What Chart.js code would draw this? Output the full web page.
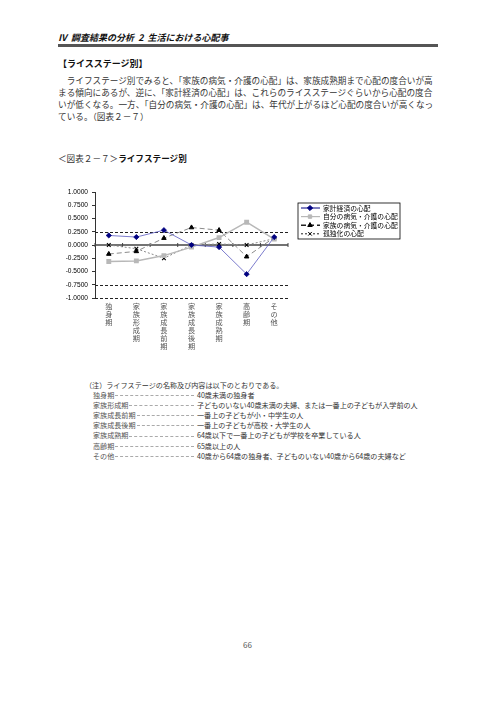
<!DOCTYPE html>
<html lang="ja">
<head>
<meta charset="UTF-8">
<title>ライフステージ別</title>
<style>
body { margin: 0; background: #fff; font-family: 'Noto Sans CJK JP', sans-serif; color: #333; }
.page { position: relative; width: 496px; height: 702px; overflow: hidden; }
.abs { position: absolute; white-space: nowrap; }

/* Header */
.head { left: 58px; top: 32px; font-size: 9px; line-height: 12px; font-weight: bold; font-style: italic; color: #111; }
.bar { position: absolute; left: 58px; top: 44px; width: 380px; height: 3px; background: #555; }

/* Body text */
.sect { left: 58px; top: 58px; font-size: 9px; line-height: 12px; font-weight: bold; color: #111; }
.para { left: 58px; top: 74px; font-size: 8.64px; line-height: 12px; }
.figttl { left: 58px; top: 152px; font-size: 8.6px; line-height: 12px; }
.figttl b { color: #111; }

/* Chart */
.chart-box { position: absolute; left: 30px; top: 180px; width: 380px; height: 185px; }

/* Notes */
.notes { left: 85px; top: 380px; font-size: 7.1px; line-height: 10.1px; }
.notes .row { display: flex; align-items: center; margin-left: 8px; }
.notes .lbl { color: #555; }
.notes .lead { width: 0; flex: 0 0 auto; border-bottom: 1px dashed #aaa; height: 0; margin: 1px 3px 0 1px; }
.pageno { left: 243px; top: 640px; font-size: 8px; line-height: 10px; color: #555; }
</style>
<script src="https://cdn.jsdelivr.net/npm/chart.js"></script>
</head>
<body>
<div class="page">
    <div class="abs head">Ⅳ&nbsp; 調査結果の分析&nbsp; 2&nbsp; 生活における心配事</div>
    <div class="bar"></div>

    <div class="abs sect">【ライスステージ別】</div>
    <div class="abs para">
        <div>　ライフステージ別でみると、「家族の病気・介護の心配」は、家族成熟期まで心配の度合いが高</div>
        <div>まる傾向にあるが、逆に、「家計経済の心配」は、これらのライスステージぐらいから心配の度合</div>
        <div>いが低くなる。一方、「自分の病気・介護の心配」は、年代が上がるほど心配の度合いが高くなっ</div>
        <div>ている。（図表２－７）</div>
    </div>

    <div class="abs figttl">＜図表２－７＞<b>ライフステージ別</b></div>

    <div class="chart-box">
        <canvas id="lifeStageChart" width="380" height="185"></canvas>
    </div>

    <div class="abs notes" id="notes">
        <div>（注）ライフステージの名称及び内容は以下のとおりである。</div>
    </div>

    <div class="abs pageno">66</div>
</div>

<script>
const stages = ["独身期", "家族形成期", "家族成長前期", "家族成長後期", "家族成熟期", "高齢期", "その他"];
const stageNotes = [
    "40歳未満の独身者",
    "子どものいない40歳未満の夫婦、または一番上の子どもが入学前の人",
    "一番上の子どもが小・中学生の人",
    "一番上の子どもが高校・大学生の人",
    "64歳以下で一番上の子どもが学校を卒業している人",
    "65歳以上の人",
    "40歳から64歳の独身者、子どものいない40歳から64歳の夫婦など"
];
const seriesNames = ["家計経済の心配", "自分の病気・介護の心配", "家族の病気・介護の心配", "孤独化の心配"];
const kakeiKeizai = [0.18, 0.15, 0.28, 0.00, -0.04, -0.55, 0.15];
const jibunByoki = [-0.31, -0.30, -0.20, -0.04, 0.14, 0.43, 0.11];
const kazokuByoki = [-0.17, -0.12, 0.13, 0.33, 0.28, -0.22, 0.14];
const kodokuka = [0.00, -0.07, -0.25, 0.00, 0.02, 0.00, 0.12];
const yTicks = [1, 0.75, 0.5, 0.25, 0, -0.25, -0.5, -0.75, -1];
const dashedLines = [0.25, -0.75, -1];

// notes list: label, dashed leader up to x=197, description
const notesEl = document.getElementById("notes");
stages.forEach((s, i) => {
    const row = document.createElement("div");
    row.className = "row";
    const lbl = document.createElement("span");
    lbl.className = "lbl";
    lbl.textContent = s;
    const lead = document.createElement("span");
    lead.className = "lead";
    const desc = document.createElement("span");
    desc.textContent = stageNotes[i];
    row.append(lbl, lead, desc);
    notesEl.appendChild(row);
    lead.style.width = (104 - 4 - lbl.getBoundingClientRect().width) + "px";
});

// dashed / zero reference lines
const refLines = {
    id: "refLines",
    beforeDatasetsDraw(chart) {
        const { ctx, chartArea: a, scales: { x, y } } = chart;
        ctx.save();
        ctx.strokeStyle = "#222";
        ctx.lineWidth = 1;
        ctx.setLineDash([3, 2]);
        dashedLines.forEach(v => {
            const py = Math.round(y.getPixelForValue(v)) + 0.5;
            ctx.beginPath();
            ctx.moveTo(a.left, py);
            ctx.lineTo(a.right, py);
            ctx.stroke();
        });
        ctx.setLineDash([]);
        const y0 = y.getPixelForValue(0);
        ctx.strokeStyle = "#444";
        ctx.lineWidth = 1.6;
        ctx.beginPath();
        ctx.moveTo(a.left, y0);
        ctx.lineTo(a.right, y0);
        ctx.stroke();
        ctx.lineWidth = 1;
        for (let i = 0; i <= stages.length; i++) {
            const px = i === 0 ? a.left : i === stages.length ? a.right
                : (x.getPixelForValue(i - 1) + x.getPixelForValue(i)) / 2;
            ctx.beginPath();
            ctx.moveTo(px, y0 - 2);
            ctx.lineTo(px, y0 + 2);
            ctx.stroke();
        }
        ctx.restore();
    }
};

// boxed legend like the original
const boxLegend = {
    id: "boxLegend",
    afterDraw(chart) {
        const ctx = chart.ctx;
        const bx = 268, by = 23, bw = 102, bh = 36, rowH = 8.6;
        ctx.save();
        ctx.fillStyle = "#fff";
        ctx.fillRect(bx, by, bw, bh);
        ctx.strokeStyle = "#000";
        ctx.lineWidth = 0.8;
        ctx.strokeRect(bx, by, bw, bh);
        chart.data.datasets.forEach((ds, i) => {
            const cy = by + 5 + rowH * i;
            ctx.strokeStyle = ds.legendColor;
            ctx.lineWidth = ds.legendWidth;
            ctx.setLineDash(ds.borderDash || []);
            ctx.beginPath();
            ctx.moveTo(bx + 3, cy);
            ctx.lineTo(bx + 22, cy);
            ctx.stroke();
            ctx.setLineDash([]);
            ctx.fillStyle = ds.pointBackgroundColor;
            ctx.strokeStyle = ds.pointBorderColor;
            ctx.lineWidth = 1;
            Chart.helpers.drawPoint(ctx, { pointStyle: ds.pointStyle, radius: ds.pointRadius, borderWidth: 1, rotation: 0 }, bx + 12, cy);
            ctx.fillStyle = "#000";
            ctx.font = '6.8px "Noto Sans CJK JP"';
            ctx.textBaseline = "middle";
            ctx.fillText(ds.label, bx + 25, cy);
        });
        ctx.restore();
    }
};

new Chart(document.getElementById("lifeStageChart"), {
    type: "line",
    data: {
        labels: stages,
        datasets: [
            {
                label: seriesNames[0],
                data: kakeiKeizai,
                borderColor: "#5a5ac0",
                borderWidth: 0.8,
                legendColor: "#000080",
                legendWidth: 1,
                pointStyle: "rectRot",
                pointRadius: 2.6,
                pointBackgroundColor: "#000080",
                pointBorderColor: "#000080"
            },
            {
                label: seriesNames[1],
                data: jibunByoki,
                borderColor: "#b8b8b8",
                borderWidth: 1.5,
                legendColor: "#b8b8b8",
                legendWidth: 1.2,
                pointStyle: "rect",
                pointRadius: 2.4,
                pointBackgroundColor: "#b8b8b8",
                pointBorderColor: "#b8b8b8"
            },
            {
                label: seriesNames[2],
                data: kazokuByoki,
                borderColor: "#8a8a8a",
                borderWidth: 1,
                borderDash: [5, 3],
                legendColor: "#222",
                legendWidth: 1.5,
                pointStyle: "triangle",
                pointRadius: 2.6,
                pointBackgroundColor: "#000",
                pointBorderColor: "#000"
            },
            {
                label: seriesNames[3],
                data: kodokuka,
                borderColor: "#8a8a8a",
                borderWidth: 1,
                borderDash: [2, 2],
                legendColor: "#222",
                legendWidth: 1,
                pointStyle: "crossRot",
                pointRadius: 2.6,
                pointBackgroundColor: "#000",
                pointBorderColor: "#000",
                pointBorderWidth: 1.1
            }
        ]
    },
    options: {
        responsive: false,
        animation: false,
        layout: { padding: { top: 12, right: 122, left: 0, bottom: 0 } },
        plugins: { legend: { display: false }, tooltip: { enabled: false } },
        scales: {
            x: {
                offset: true,
                grid: { display: false, drawTicks: false },
                border: { display: false },
                ticks: {
                    autoSkip: false,
                    maxRotation: 0,
                    minRotation: 0,
                    padding: 4,
                    color: "#555",
                    font: { family: "Noto Sans CJK JP", size: 7.2, lineHeight: 1.12 },
                    callback: (v, i) => stages[i].split("")
                },
                afterFit: s => { s.height = 67; }
            },
            y: {
                min: -1,
                max: 1,
                afterBuildTicks: s => { s.ticks = yTicks.map(v => ({ value: v })); },
                grid: { drawOnChartArea: false, tickLength: 3, tickColor: "#333" },
                border: { display: true, color: "#333", width: 1 },
                ticks: {
                    padding: 4,
                    color: "#000",
                    font: { family: "Liberation Sans", size: 6.6 },
                    callback: v => v.toFixed(4)
                },
                afterFit: s => { s.width = 65; }
            }
        }
    },
    plugins: [refLines, boxLegend]
});
</script>
</body>
</html>
